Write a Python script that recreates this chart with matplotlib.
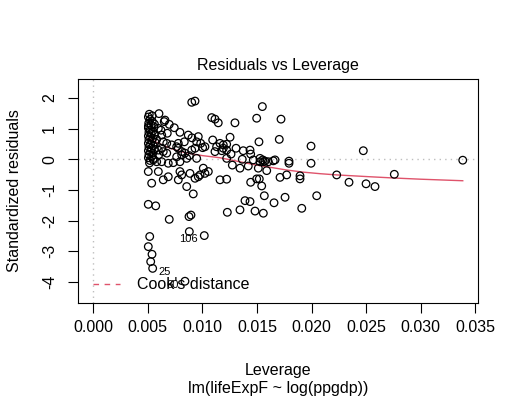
import numpy as np
import matplotlib
matplotlib.use("Agg")
import matplotlib.pyplot as plt

plt.rcParams['font.family'] = ['Liberation Sans', 'DejaVu Sans']

# leverage / standardized residual pairs
leverage = [
    # dense column at minimum leverage
    0.00513, 0.00505, 0.00520, 0.00540, 0.00508, 0.00530, 0.00555, 0.00505, 0.00520, 0.00545,
    0.00510, 0.00530, 0.00560, 0.00505, 0.00525, 0.00545, 0.00510, 0.00535, 0.00565, 0.00505,
    0.00525, 0.00550, 0.00510, 0.00530, 0.00560, 0.00505, 0.00525, 0.00545, 0.00510, 0.00535,
    0.00505, 0.00550, 0.00520, 0.00550, 0.00581, 0.00627, 0.00515, 0.00540, 0.00560, 0.00505,
    # left-middle
    0.00602, 0.00650, 0.00657, 0.00696, 0.00742, 0.00794, 0.00678, 0.00596, 0.00627, 0.00641,
    0.00673, 0.00596, 0.00627, 0.00641, 0.00673, 0.00718, 0.00764, 0.00779, 0.00810, 0.00840,
    0.00779, 0.00834, 0.00856, 0.00810, 0.00764, 0.00687, 0.00733, 0.00794, 0.00580, 0.00600,
    0.00620,
    # middle upper
    0.00902, 0.00932, 0.01085, 0.01115, 0.01145, 0.00904, 0.00962, 0.01094, 0.00947, 0.00984,
    0.00870, 0.01023, 0.01002, 0.01130, 0.01191, 0.01115, 0.01177, 0.01222, 0.00902, 0.00932,
    0.00947, 0.00880,
    # band near zero
    0.01161, 0.01222, 0.01191, 0.01308, 0.01374, 0.01436, 0.01442, 0.01262, 0.01222, 0.01274,
    0.01344, 0.01420, 0.01365, 0.01466, 0.01527, 0.01552, 0.01573, 0.01604, 0.01649, 0.01512,
    0.01589, 0.01558, 0.01527, 0.01793, 0.01793, 0.01995, 0.01665,
    # upper right
    0.01549, 0.01298, 0.01497, 0.01720, 0.01253, 0.01518, 0.01704, 0.01995, 0.02474,
    # lower
    0.00504, 0.00596, 0.00641, 0.00687, 0.00535, 0.00794, 0.00810, 0.00779, 0.00856, 0.00916,
    0.00886, 0.00932, 0.00962, 0.00978, 0.01008, 0.01054, 0.01023, 0.01161, 0.01222,
    0.00504, 0.00572, 0.00696, 0.00877, 0.00895, 0.00517, 0.00880, 0.01017,
    0.00504, 0.00538, 0.00526, 0.00544, 0.00840,
    0.01228, 0.01344, 0.01390, 0.01436, 0.01482, 0.01558, 0.01567, 0.01656, 0.01757, 0.01910,
    0.02047,
    0.01442, 0.01497, 0.01521, 0.01543, 0.01711, 0.01772, 0.01894, 0.01894, 0.02230, 0.02343,
    0.02499, 0.02581, 0.02758, 0.03385,
]
std_resid = [
    1.47, 1.38, 1.30, 1.24, 1.18, 1.12, 1.06, 1.02, 0.96, 0.92,
    0.88, 0.84, 0.80, 0.76, 0.72, 0.68, 0.64, 0.60, 0.56, 0.52,
    0.48, 0.44, 0.40, 0.36, 0.32, 0.28, 0.24, 0.20, 0.15, 0.10,
    0.05, 0.02, -0.04, -0.02, -0.08, -0.08, -0.12, 1.42, 1.15, 1.08,
    1.49, 1.23, 1.28, 1.14, 1.03, 0.88, 0.85, 1.01, 0.79, 0.57,
    0.52, 0.30, 0.36, 0.25, 0.20, 0.47, 0.41, 0.36, 0.25, 0.20,
    0.52, 0.57, 0.03, 0.14, 0.08, -0.13, -0.11, -0.08, 0.65, 0.15,
    0.95,
    1.86, 1.90, 1.36, 1.31, 1.19, 0.70, 0.74, 0.63, 0.57, 0.52,
    0.79, 0.41, 0.38, 0.41, 0.47, 0.25, 0.28, 0.30, 0.30, 0.36,
    0.03, 0.12,
    0.52, 0.49, 0.36, 0.36, 0.28, 0.30, 0.17, 0.17, 0.03, -0.19,
    -0.29, -0.22, 0.00, -0.02, 0.03, -0.02, -0.06, -0.08, -0.05, -0.29,
    -0.37, -0.08, -0.08, -0.06, -0.13, -0.13, -0.02,
    1.72, 1.19, 1.34, 1.31, 0.72, 0.57, 0.65, 0.43, 0.28,
    -0.40, -0.40, -0.67, -0.57, -0.78, -0.40, -0.51, -0.67, -0.89, -1.13,
    -0.46, -0.62, -0.57, -0.51, -0.29, -0.40, -0.46, -0.67, -0.65,
    -1.47, -1.52, -1.96, -1.87, -1.82, -2.52, -2.36, -2.49,
    -2.85, -3.10, -3.34, -3.56, -3.98,
    -1.73, -1.65, -1.35, -1.38, -1.69, -1.76, -1.19, -1.42, -1.24, -1.60,
    -1.19,
    -0.75, -0.64, -0.64, -0.87, -0.59, -0.51, -0.54, -0.64, -0.51, -0.75,
    -0.80, -0.89, -0.49, -0.03,
]

# red smoother
smooth_lev = [0.00504, 0.0060, 0.0070, 0.0080, 0.0090, 0.0100, 0.01161, 0.01314, 0.01466, 0.01619,
              0.01772, 0.01925, 0.02078, 0.0223, 0.02383, 0.02535, 0.0275, 0.0300, 0.03385]
smooth_res = [0.68, 0.52, 0.37, 0.25, 0.18, 0.12, 0.05, -0.06, -0.17, -0.26,
              -0.35, -0.42, -0.47, -0.51, -0.54, -0.57, -0.61, -0.65, -0.70]

# observation names of the 3 largest Cook's distances, in decreasing order
id_labels = ["60", "25", "106"]

x_ticks = [0.000, 0.005, 0.010, 0.015, 0.020, 0.025, 0.030, 0.035]
y_ticks = [2, 1, 0, -1, -2, -3, -4]

lev = np.array(leverage)
res = np.array(std_resid)

fig = plt.figure(figsize=(5.18, 4.01), dpi=100)
ax = fig.add_axes([78 / 518, 98 / 401, 399.7 / 518, 224.3 / 401])

red = "#DF536B"
ax.axhline(0, color="#BEBEBE", lw=1, linestyle=(0, (1, 3)), zorder=1)
ax.axvline(0, color="#BEBEBE", lw=1, linestyle=(0, (1, 3)), zorder=1)
ax.scatter(lev, res, s=30, facecolors="none", edgecolors="black", linewidths=0.9, zorder=3)
ax.plot(smooth_lev, smooth_res, color=red, lw=1, zorder=2)

# label the largest Cook's distance points like R does
cook = res ** 2 * lev / (2 * (1 - lev))
top = np.argsort(cook)[::-1][:3]
mid = (lev[top].min() + lev[top].max()) / 2
for name, i in zip(id_labels, top):
    if lev[i] > mid:
        ax.annotate(name, (lev[i], res[i]), xytext=(-4.5, -2.5), textcoords="offset points",
                    ha="right", va="center", fontsize=8, zorder=4)
    else:
        ax.annotate(name, (lev[i], res[i]), xytext=(4.5, -2.5), textcoords="offset points",
                    ha="left", va="center", fontsize=8, zorder=4)

# legend, drawn like R's bty="n"
ax.plot([0.0375, 0.105], [0.0847, 0.0847], transform=ax.transAxes, color=red, lw=1,
        linestyle=(0, (4, 4)))
ax.text(0.1476, 0.0847, "Cook's distance", transform=ax.transAxes, fontsize=11.5,
        va="center", ha="left")

ax.set_xlim(-0.0014, 0.03522)
ax.set_ylim(-4.69, 2.63)
ax.set_xticks(x_ticks)
ax.set_xticklabels([f"{t:.3f}" for t in x_ticks])
ax.set_yticks(y_ticks)
ax.set_yticklabels([str(t) for t in y_ticks], rotation=90, va="center")
ax.tick_params(axis="both", direction="out", length=7, width=0.8, labelsize=11.5)
ax.tick_params(axis="x", pad=5)
ax.tick_params(axis="y", pad=8)
for sp in ax.spines.values():
    sp.set_linewidth(0.8)

ax.set_title("Residuals vs Leverage", fontsize=11.5, pad=6)
fig.text(277.9 / 518, 1 - 371 / 401, "Leverage", ha="center", va="center", fontsize=11.5)
fig.text(277.9 / 518, 1 - 388 / 401, "lm(lifeExpF ~ log(ppgdp))", ha="center", va="center",
         fontsize=11.5)
fig.text(15 / 518, 1 - 190.9 / 401, "Standardized residuals", rotation=90, ha="center",
         va="center", fontsize=11.5)

fig.savefig("out.png", dpi=100)
